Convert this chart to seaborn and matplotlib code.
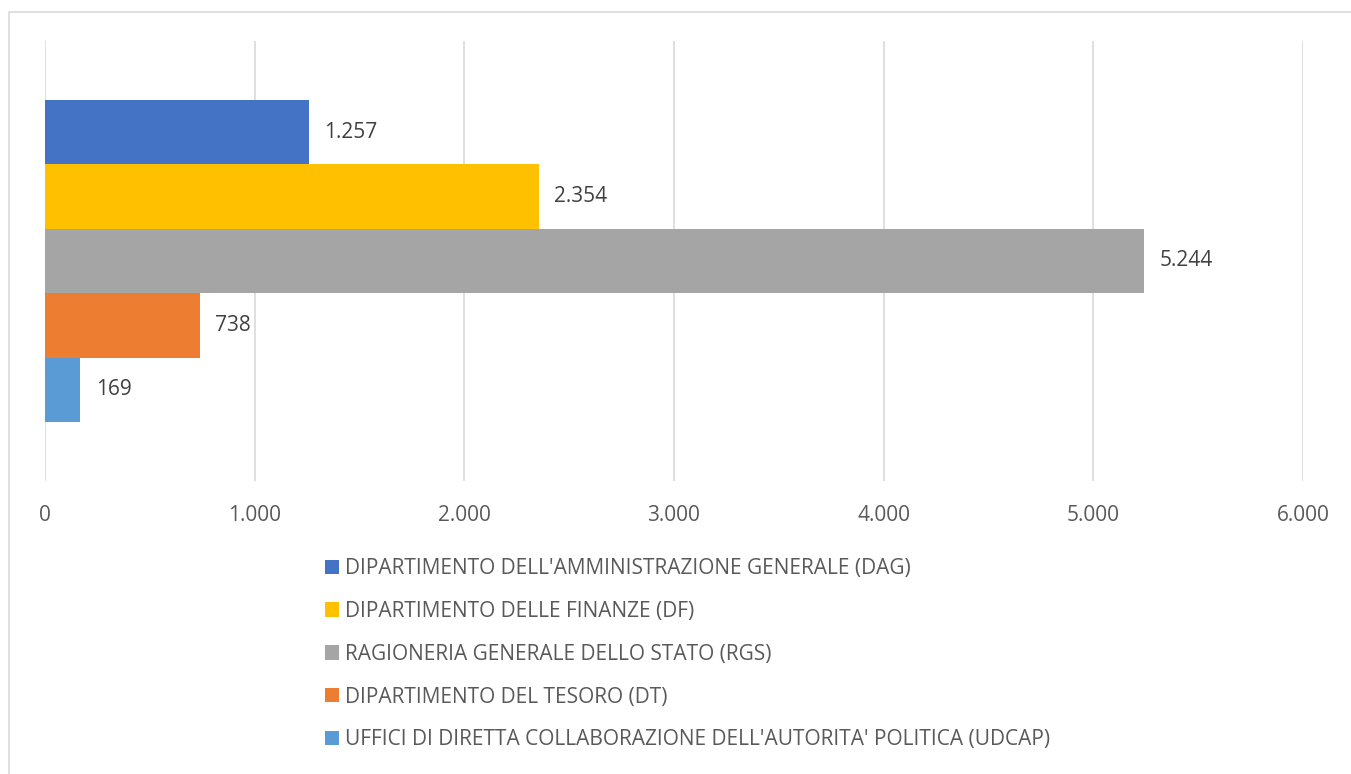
import pandas as pd
import seaborn as sns
import matplotlib.pyplot as plt
from matplotlib.patches import Patch, Rectangle

dipartimenti = [
    "DIPARTIMENTO DELL'AMMINISTRAZIONE GENERALE (DAG)",
    "DIPARTIMENTO DELLE FINANZE (DF)",
    "RAGIONERIA GENERALE DELLO STATO (RGS)",
    "DIPARTIMENTO DEL TESORO (DT)",
    "UFFICI DI DIRETTA COLLABORAZIONE DELL'AUTORITA' POLITICA (UDCAP)",
]
valori = [1257, 2354, 5244, 738, 169]
colori = ["#4472C4", "#FFC000", "#A5A5A5", "#ED7D31", "#5B9BD5"]
tick_valori = [0, 1000, 2000, 3000, 4000, 5000, 6000]


def it_fmt(v):
    return f"{v:,}".replace(",", ".")


df = pd.DataFrame({"cat": ["totale"] * len(valori), "dipartimento": dipartimenti, "valore": valori})

sns.set_style("white")
plt.rcParams["font.family"] = ["Open Sans", "DejaVu Sans"]
testo = "#595959"
fs = 15

fig = plt.figure(figsize=(13.51, 7.74), dpi=100)
ax = fig.add_axes([45 / 1351, 1 - 481 / 774, (1303 - 45) / 1351, 440 / 774])

sns.barplot(data=df, x="valore", y="cat", hue="dipartimento", hue_order=dipartimenti,
            palette=colori, orient="h", width=0.732, saturation=1, legend=False,
            linewidth=0, ax=ax)

for c, v in zip(ax.containers, valori):
    ax.bar_label(c, labels=[it_fmt(v)], padding=11, fontsize=fs, color="#404040")

ax.set_xlim(0, 6000)
ax.set_ylim(0.5, -0.5)
ax.set_xticks(tick_valori)
ax.set_xticklabels([it_fmt(t) for t in tick_valori], fontsize=fs, color=testo)
ax.set_yticks([])
ax.set_xlabel("")
ax.set_ylabel("")
ax.tick_params(axis="x", length=0, pad=17)
ax.grid(axis="x", color="#d9d9d9", linewidth=1.2)
ax.set_axisbelow(True)
for s in ax.spines.values():
    s.set_visible(False)

# cornice dell'area grafico
fig.patches.append(Rectangle((9 / 1351, -0.05), 1.1, 1 - 12 / 774 + 0.05, transform=fig.transFigure,
                             fill=False, edgecolor="#d9d9d9", linewidth=1.2))

handles = [Patch(facecolor=c, edgecolor="none") for c in colori]
fig.legend(handles, dipartimenti, loc="upper left", bbox_to_anchor=(325 / 1351, 1 - 558 / 774),
           frameon=False, fontsize=fs, labelcolor=testo, handlelength=0.68, handleheight=0.68,
           handletextpad=0.3, labelspacing=1.05, borderpad=0, borderaxespad=0)

fig.savefig("out.png", dpi=100)
